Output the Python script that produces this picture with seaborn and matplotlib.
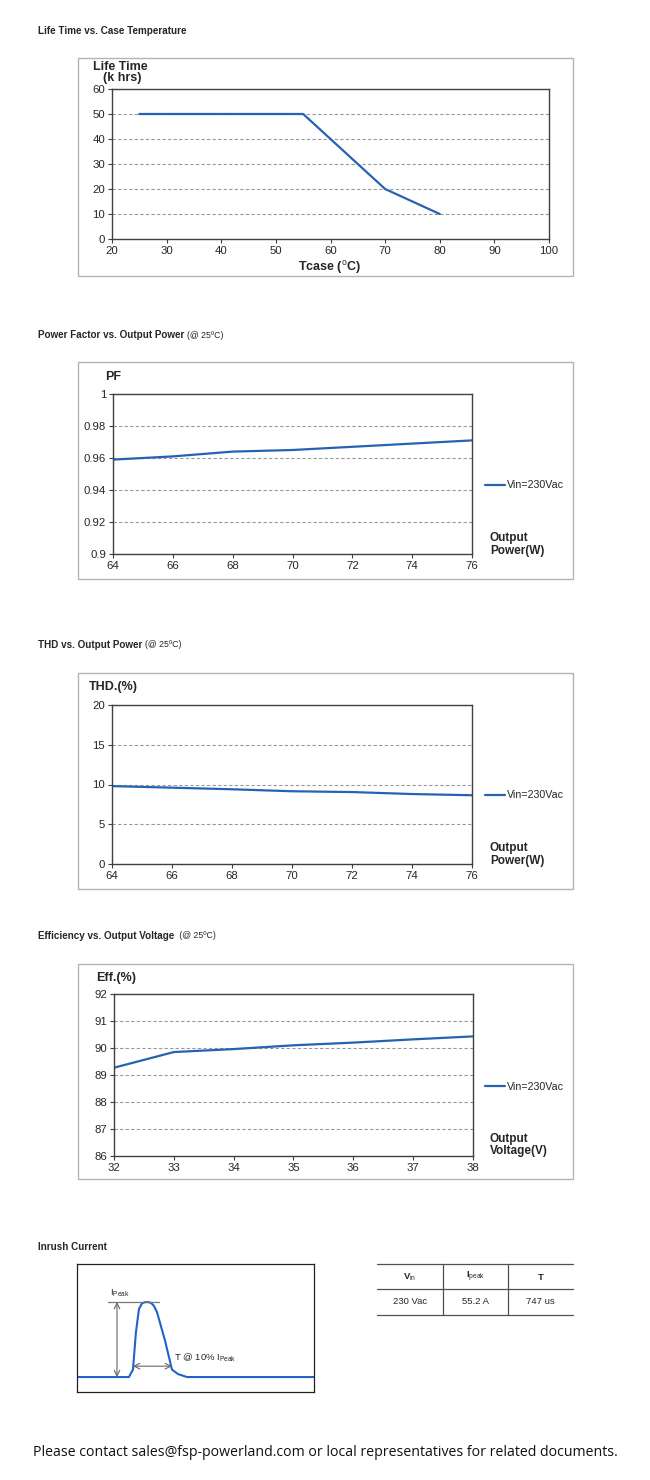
import matplotlib
matplotlib.use("Agg")
import matplotlib.pyplot as plt
from matplotlib.patches import Rectangle
from matplotlib.lines import Line2D
import seaborn as sns

# ---- data ----
life_temp = [25, 55, 70, 80]
life_khrs = [50, 50, 20, 10]

power_w = [64, 66, 68, 70, 72, 74, 76]
pf_vals = [0.959, 0.961, 0.964, 0.965, 0.967, 0.969, 0.971]
thd_vals = [9.8, 9.6, 9.4, 9.15, 9.05, 8.8, 8.65]

vout = [32, 33, 34, 35, 36, 37, 38]
eff_vals = [89.27, 89.85, 89.96, 90.1, 90.2, 90.32, 90.43]

# inrush waveform sketch (us, A)
inrush_t = [-1072, -77, 0, 57, 115, 172, 230, 287, 345, 400, 460, 613, 747, 862,
            1034, 3468]
inrush_a = [0, 0, 5.5, 33, 50, 54.2, 55.1, 55.2, 54.6, 52.5, 47.8, 27, 5.5, 2.2,
            0, 0]
ipeak = 55.2
t_width = 747

table_head = ["V", "I", "T"]
table_sub = ["in", "peak", ""]
table_row = ["230 Vac", "55.2 A", "747 us"]

series_label = "Vin=230Vac"

LINE = "#2563b0"
SPINE = "#404040"
GRID = "#9a9a9a"
W, H = 650, 1480

sns.set_style("white")
plt.rcParams["font.family"] = ["Liberation Sans", "DejaVu Sans"]
plt.rcParams["mathtext.fontset"] = "custom"
plt.rcParams["mathtext.rm"] = "Liberation Sans"
plt.rcParams["mathtext.it"] = "Liberation Sans:italic"
plt.rcParams["mathtext.bf"] = "Liberation Sans:bold"

fig = plt.figure(figsize=(W / 100, H / 100), dpi=100)


def fx(x):
    return x / W


def fy(y):
    return 1 - y / H


def px_axes(x0, y0, x1, y1):
    return fig.add_axes([fx(x0), fy(y1), (x1 - x0) / W, (y1 - y0) / H])


def outer_box(x0, y0, x1, y1, color="#b4b4b4", lw=1.0):
    fig.add_artist(Rectangle((fx(x0), fy(y1)), (x1 - x0) / W, (y1 - y0) / H,
                             transform=fig.transFigure, fill=False,
                             edgecolor=color, linewidth=lw))


def section_title(y, bold, note=None):
    t = fig.text(fx(38), fy(y), bold, fontsize=7.1, fontweight="bold",
                 va="center", ha="left")
    if note:
        fig.canvas.draw()
        bb = t.get_window_extent()
        fig.text(bb.x1 / W + 0.004, fy(y), note, fontsize=6.3,
                 va="center", ha="left")


def style_axes(ax, xlim, ylim, xticks, yticks, yfmt):
    ax.set_xlim(*xlim)
    ax.set_ylim(*ylim)
    ax.set_xticks(xticks)
    ax.set_yticks(yticks)
    ax.set_yticklabels([yfmt(v) for v in yticks])
    ax.set_xlabel("")
    ax.set_ylabel("")
    for s in ax.spines.values():
        s.set_color(SPINE)
        s.set_linewidth(1.0)
    ax.tick_params(axis="both", labelsize=8.2, length=3, width=0.8,
                   color=SPINE, direction="out", pad=2)
    ax.tick_params(axis="x", bottom=True)
    ax.tick_params(axis="y", left=True)
    for v in yticks[1:-1]:
        ax.axhline(v, color=GRID, lw=0.8, ls=(0, (3, 2)), zorder=0)


def side_legend(ax, y, xlabel_lines, ylab):
    handles, labels = ax.get_legend_handles_labels()
    ax.legend(handles, labels, loc="center left",
              bbox_to_anchor=(fx(485), fy(y)), bbox_transform=fig.transFigure,
              frameon=False, fontsize=7.7, handlelength=1.9, handletextpad=0.12,
              borderpad=0, borderaxespad=0)
    fig.text(fx(490), fy(ylab), xlabel_lines, fontsize=8.5, fontweight="bold",
             va="center", ha="left", linespacing=1.1)


# ---------- 1. Life time ----------
section_title(31, "Life Time vs. Case Temperature")
outer_box(78, 58, 573, 276)
ax1 = px_axes(112, 89, 549, 239)
sns.lineplot(x=life_temp, y=life_khrs, ax=ax1, color=LINE, lw=1.6)
style_axes(ax1, (20, 100), (0, 60), range(20, 101, 10), list(range(0, 61, 10)),
           lambda v: f"{v}")
fig.text(fx(120), fy(67), "Life Time", fontsize=9, fontweight="bold",
         ha="center", va="center")
fig.text(fx(122), fy(78.5), "(k hrs)", fontsize=9, fontweight="bold",
         ha="center", va="center")
fig.text(fx(330), fy(267), r"Tcase ($^{\mathrm{o}}$C)", fontsize=9,
         fontweight="bold", ha="center", va="center")

# ---------- 2. Power factor ----------
section_title(335, "Power Factor vs. Output Power", "(@ 25ºC)")
outer_box(78, 362, 573, 579)
ax2 = px_axes(113, 394, 472, 554)
sns.lineplot(x=power_w, y=pf_vals, ax=ax2, color=LINE, lw=1.6, label=series_label)
style_axes(ax2, (64, 76), (0.9, 1.0), range(64, 77, 2),
           [0.9, 0.92, 0.94, 0.96, 0.98, 1.0], lambda v: f"{v:g}")
fig.text(fx(105), fy(377), "PF", fontsize=9, fontweight="bold",
         ha="left", va="center")
side_legend(ax2, 485.5, "Output\nPower(W)", 544.5)

# ---------- 3. THD ----------
section_title(645, "THD vs. Output Power", "(@ 25ºC)")
outer_box(78, 673, 573, 889)
ax3 = px_axes(112, 705, 472, 864)
sns.lineplot(x=power_w, y=thd_vals, ax=ax3, color=LINE, lw=1.6, label=series_label)
style_axes(ax3, (64, 76), (0, 20), range(64, 77, 2), [0, 5, 10, 15, 20],
           lambda v: f"{v}")
fig.text(fx(89), fy(687), "THD.(%)", fontsize=9, fontweight="bold",
         ha="left", va="center")
side_legend(ax3, 795.5, "Output\nPower(W)", 854.5)

# ---------- 4. Efficiency ----------
section_title(936, "Efficiency vs. Output Voltage", " (@ 25ºC)")
outer_box(78, 964, 573, 1179)
ax4 = px_axes(114, 994, 473, 1156)
sns.lineplot(x=vout, y=eff_vals, ax=ax4, color=LINE, lw=1.6, label=series_label)
style_axes(ax4, (32, 38), (86, 92), range(32, 39), list(range(86, 93)),
           lambda v: f"{v}")
fig.text(fx(96), fy(978), "Eff.(%)", fontsize=9, fontweight="bold",
         ha="left", va="center")
side_legend(ax4, 1087, "Output\nVoltage(V)", 1145)

# ---------- 5. Inrush current ----------
section_title(1247, "Inrush Current")
ax5 = px_axes(77, 1264, 314, 1392)
sns.lineplot(x=inrush_t, y=inrush_a, ax=ax5, color="#1f63c6", lw=1.5)
ax5.set_xlim(-1072, 3468)
ax5.set_ylim(-11, 83.2)
ax5.set_xticks([])
ax5.set_yticks([])
for s in ax5.spines.values():
    s.set_color("#222222")
    s.set_linewidth(0.9)
ax5.plot([-479, 498], [ipeak + 0.4, ipeak + 0.4], color="#777777", lw=0.9)
ax5.annotate("", xy=(-306, ipeak), xytext=(-306, 0),
             arrowprops=dict(arrowstyle="<->", color="#666666", lw=0.8,
                             shrinkA=0, shrinkB=0))
ax5.annotate("", xy=(0, 8), xytext=(t_width, 8),
             arrowprops=dict(arrowstyle="<->", color="#666666", lw=0.8,
                             shrinkA=0, shrinkB=0))
ax5.text(-440, 61.5, r"I$_{\mathrm{Peak}}$", fontsize=6.8, ha="left", va="center")
ax5.text(790, 14, r"T @ 10% I$_{\mathrm{Peak}}$", fontsize=6.8,
         ha="left", va="center")

# table
tcol = "#505050"
for y in (1264, 1289, 1315):
    fig.add_artist(Line2D([fx(377), fx(573)], [fy(y), fy(y)],
                          transform=fig.transFigure, color=tcol, lw=0.9))
for x in (443, 508):
    fig.add_artist(Line2D([fx(x), fx(x)], [fy(1264), fy(1315)],
                          transform=fig.transFigure, color=tcol, lw=0.9))
for cx, h, sub, r in zip((410, 475.5, 540.5), table_head, table_sub, table_row):
    lab = h if not sub else h + r"$_{\mathrm{" + sub + "}}$"
    fig.text(fx(cx), fy(1277), lab, fontsize=6.8, fontweight="bold",
             ha="center", va="center")
    fig.text(fx(cx), fy(1302), r, fontsize=6.8, ha="center", va="center")

# footer
fig.text(0.5, fy(1452),
         "Please contact sales@fsp-powerland.com or local representatives for related documents.",
         fontsize=10.2, family=["Open Sans", "DejaVu Sans"], ha="center",
         va="center", color="#111111")

fig.savefig("out.png", dpi=100)
